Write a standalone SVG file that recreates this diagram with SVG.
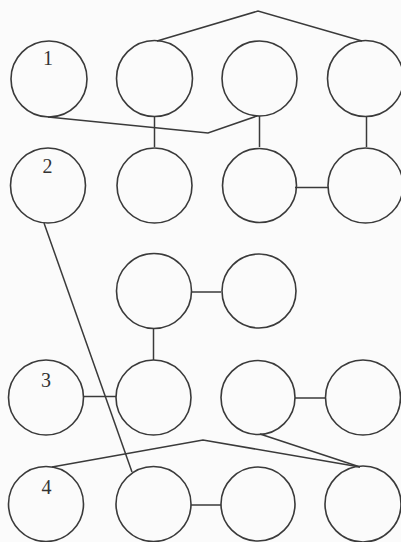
<svg xmlns="http://www.w3.org/2000/svg" width="401" height="542" viewBox="0 0 401 542">
<style>
.n{fill:none;stroke:#3a3a3a;stroke-width:1.6}
.c{fill:none;stroke:#3a3a3a;stroke-width:1.5}
.t{font-family:"Liberation Serif","Times New Roman",serif;font-size:20px;fill:#333;text-anchor:middle}
</style>
<rect width="401" height="542" fill="#fbfbfb"/>
<g id="connectors">
<polyline class="c" points="157,41 258,11 362,41"/>
<polyline class="c" points="48,117 208,133 257,116"/>
<line class="c" x1="154.5" y1="116" x2="154.5" y2="147"/>
<line class="c" x1="259.5" y1="116" x2="259.5" y2="147"/>
<line class="c" x1="366.5" y1="117" x2="366.5" y2="147"/>
<line class="c" x1="295" y1="187.5" x2="328" y2="187.5"/>
<line class="c" x1="44" y1="223" x2="132" y2="472"/>
<line class="c" x1="191" y1="292" x2="221" y2="292"/>
<line class="c" x1="153.5" y1="329" x2="153.5" y2="360"/>
<line class="c" x1="84" y1="396.5" x2="116" y2="396.5"/>
<line class="c" x1="295" y1="398" x2="326" y2="398"/>
<polyline class="c" points="52,467 203,440 360,467"/>
<line class="c" x1="260" y1="434" x2="360" y2="467"/>
<line class="c" x1="191" y1="505" x2="221" y2="505"/>
</g>
<g id="n1"><circle class="n" cx="49" cy="79" r="38"/><text class="t" x="48" y="65">1</text></g>
<g id="r1c2"><circle class="n" cx="154.5" cy="78.5" r="38"/></g>
<g id="r1c3"><circle class="n" cx="259.5" cy="78.5" r="37.5"/></g>
<g id="r1c4"><circle class="n" cx="365.5" cy="78.5" r="38"/></g>
<g id="n2"><circle class="n" cx="48" cy="185.5" r="37.5"/><text class="t" x="47.5" y="173">2</text></g>
<g id="r2c2"><circle class="n" cx="154.5" cy="185.5" r="37.5"/></g>
<g id="r2c3"><circle class="n" cx="259.5" cy="185.5" r="37"/></g>
<g id="r2c4"><circle class="n" cx="365.5" cy="185.5" r="37.5"/></g>
<g id="r3c2"><circle class="n" cx="154" cy="291" r="37.5"/></g>
<g id="r3c3"><circle class="n" cx="259" cy="291" r="37"/></g>
<g id="n3"><circle class="n" cx="46" cy="397.5" r="37.5"/><text class="t" x="46" y="387">3</text></g>
<g id="r4c2"><circle class="n" cx="153.5" cy="397.5" r="37.5"/></g>
<g id="r4c3"><circle class="n" cx="258" cy="397.5" r="37"/></g>
<g id="r4c4"><circle class="n" cx="363" cy="397.5" r="37.5"/></g>
<g id="n4"><circle class="n" cx="46" cy="504" r="37.5"/><text class="t" x="46.5" y="494">4</text></g>
<g id="r5c2"><circle class="n" cx="153.5" cy="504" r="37.5"/></g>
<g id="r5c3"><circle class="n" cx="258" cy="504" r="37"/></g>
<g id="r5c4"><circle class="n" cx="363" cy="504" r="38"/></g>
</svg>
